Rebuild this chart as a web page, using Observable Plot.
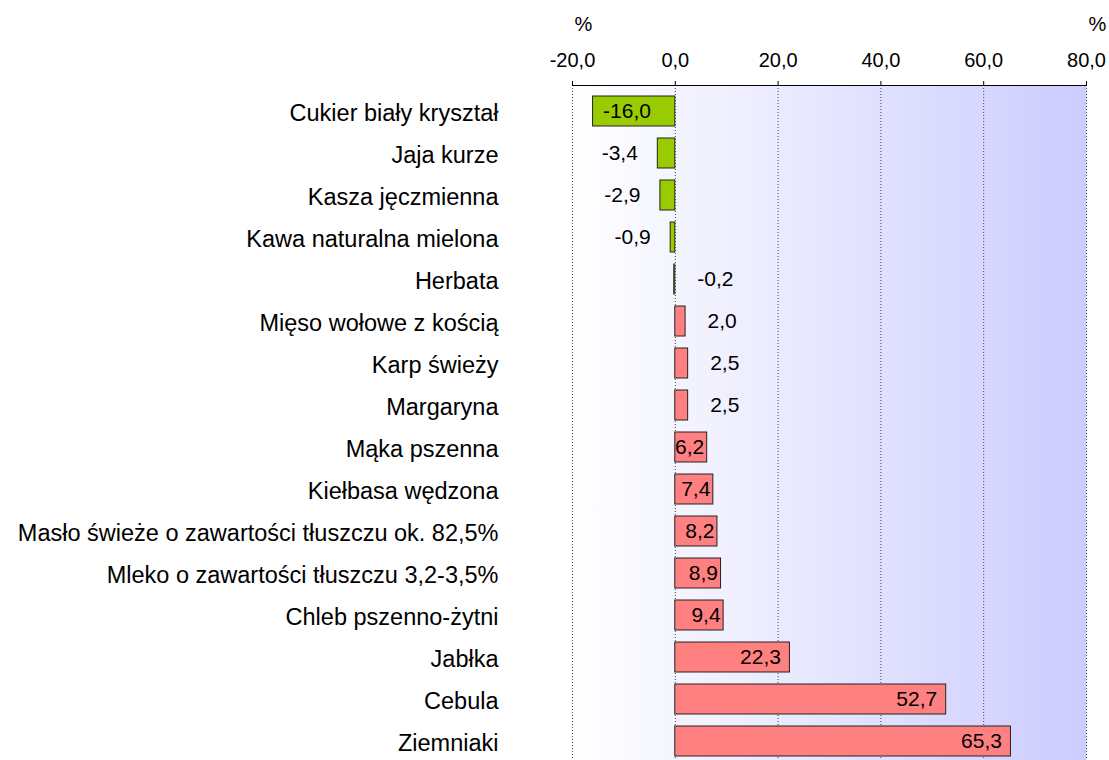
<!DOCTYPE html>
<html><head><meta charset="utf-8">
<script src="https://cdn.jsdelivr.net/npm/d3@7"></script>
<script src="https://cdn.jsdelivr.net/npm/@observablehq/plot@0.6"></script>
<style>html,body{margin:0;padding:0;background:#fff;overflow:hidden}</style>
</head><body><div id="chart"></div>
<script>
const categories = [
  "Cukier biały kryształ",
  "Jaja kurze",
  "Kasza jęczmienna",
  "Kawa naturalna mielona",
  "Herbata",
  "Mięso wołowe z kością",
  "Karp świeży",
  "Margaryna",
  "Mąka pszenna",
  "Kiełbasa wędzona",
  "Masło świeże o zawartości tłuszczu ok. 82,5%",
  "Mleko o zawartości tłuszczu 3,2-3,5%",
  "Chleb pszenno-żytni",
  "Jabłka",
  "Cebula",
  "Ziemniaki"
];
const values = [-16.0, -3.4, -2.9, -0.9, -0.2, 2.0, 2.5, 2.5, 6.2, 7.4, 8.2, 8.9, 9.4, 22.3, 52.7, 65.3];
const xTicks = [-20, 0, 20, 40, 60, 80];
const unitLabel = "%";

const data = categories.map((name, i) => ({name, value: values[i]}));
const fmt = v => v.toFixed(1).replace(".", ",");
const FONT = '"Liberation Sans", Arial, sans-serif';

const chart = Plot.plot({
  width: 1109, height: 766,
  marginLeft: 572, marginRight: 23, marginTop: 85, marginBottom: 0,
  style: {fontFamily: FONT, background: "white", color: "black", overflow: "visible"},
  x: {domain: [-20, 80], label: null},
  y: {domain: categories, paddingInner: 0.294, paddingOuter: 0.147, label: null},
  marks: [
    Plot.frame({fill: "url(#bgGrad)", stroke: null}),
    Plot.ruleX(xTicks, {stroke: "#444", strokeDasharray: "1,2"}),
    Plot.barX(data, {x: "value", y: "name", fill: d => d.value < 0 ? "#99cc00" : "#ff8080", stroke: "#222", strokeWidth: 1}),
    Plot.frame({anchor: "top", stroke: "black"}),
    Plot.axisX({anchor: "top", ticks: xTicks, tickFormat: fmt, tickSize: 5, tickPadding: 14, fontSize: 20, label: null}),
    Plot.axisY({anchor: "left", tickSize: 0, tickPadding: 74, fontSize: 23.5, label: null, dy: 2}),
    Plot.text([-20, 80], {x: d => d, text: () => unitLabel, frameAnchor: "top", dy: -69, dx: 11, fontSize: 20}),
    // inside end for larger positive values
    Plot.text(data.filter(d => d.value >= 5 && d.value < 10), {x: "value", y: "name", text: d => fmt(d.value), textAnchor: "end", dx: -3, fontSize: 21}),
    Plot.text(data.filter(d => d.value >= 10), {x: "value", y: "name", text: d => fmt(d.value), textAnchor: "end", dx: -9, fontSize: 21}),
    // inside start for large negative
    Plot.text(data.filter(d => d.value <= -10), {x: "value", y: "name", text: d => fmt(d.value), textAnchor: "start", dx: 10, fontSize: 21}),
    // outside left for small negative
    Plot.text(data.filter(d => d.value > -10 && d.value <= -0.5), {x: "value", y: "name", text: d => fmt(d.value), textAnchor: "end", dx: -20, fontSize: 21}),
    // outside right for near-zero / small positive
    Plot.text(data.filter(d => d.value > -0.5 && d.value < 5), {x: d => Math.max(d.value, 0), y: "name", text: d => fmt(d.value), textAnchor: "start", dx: 22, fontSize: 21})
  ]
});

const svg = d3.select(chart);
const defs = svg.insert("defs", ":first-child");
const grad = defs.append("linearGradient").attr("id", "bgGrad").attr("x1", "0").attr("x2", "1").attr("y1", "0").attr("y2", "0");
grad.append("stop").attr("offset", "0").attr("stop-color", "#ffffff");
grad.append("stop").attr("offset", "1").attr("stop-color", "#ccccff");
document.getElementById("chart").appendChild(chart);
</script>
</body></html>
